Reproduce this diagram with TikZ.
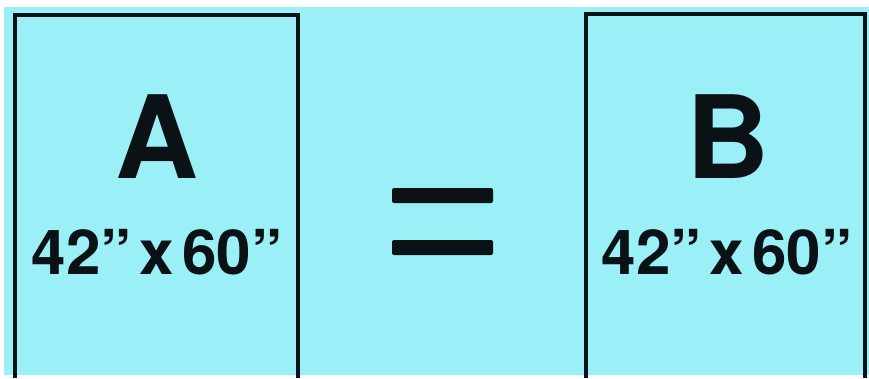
\documentclass[tikz,border=0pt]{standalone}
\usepackage{fontspec}
\setmainfont{TeX Gyre Heros}
\definecolor{bgcyan}{RGB}{155,240,248}
\definecolor{ink}{RGB}{10,18,22}
\newcommand{\dimtext}{42”\hspace{0.13em}x\hspace{0.13em}60”}
\tikzset{
  frame/.style={draw=ink, line width=4.5pt, line join=miter},
  bar/.style={fill=ink, rounded corners=2pt},
  bigletter/.style={font=\fontsize{115}{115}\selectfont\bfseries, text=ink, inner sep=0pt, anchor=base},
  dims/.style={font=\fontsize{62}{62}\selectfont\bfseries, text=ink, inner sep=0pt, anchor=base},
}
\begin{document}
\begin{tikzpicture}[x=1pt,y=1pt]
\useasboundingbox (0,0) rectangle (869,378);
\fill[white] (0,0) rectangle (869,378);
\fill[bgcyan] (4,3) rectangle (869,371);
% left panel
\draw[frame] (15,0) -- (15,363) -- (298,363) -- (298,0);
% right panel
\draw[frame] (586,0) -- (586,364) -- (865,364) -- (865,0);
% equals sign
\fill[bar] (392,175) rectangle (493,190);
\fill[bar] (392,123) rectangle (493,138);
% texts
\node[bigletter] (A) at (157,200) {A};
\node[dims] (Adim) at (157,104) {\dimtext};
\node[bigletter] (B) at (728,200) {B};
\node[dims] (Bdim) at (727,104) {\dimtext};
\end{tikzpicture}
\end{document}
